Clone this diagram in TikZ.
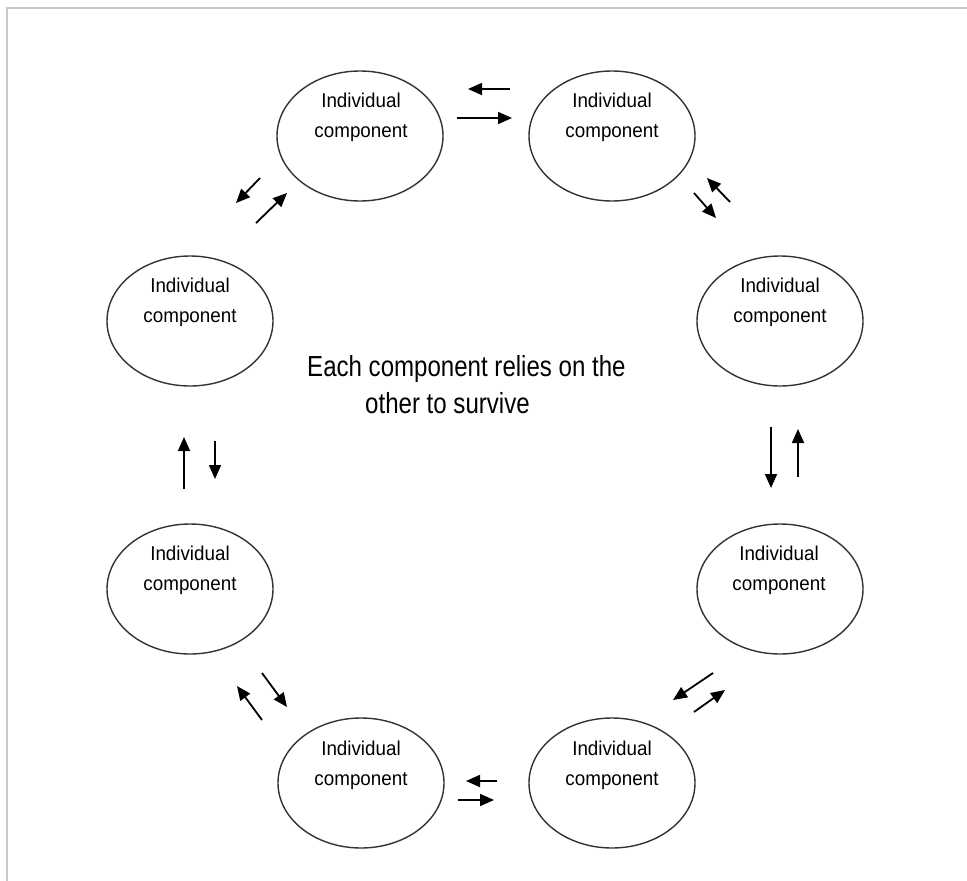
\documentclass[tikz,border=0pt]{standalone}
\usepackage{fontspec}
\setmainfont{Liberation Sans}
\newfontfamily\nodefont[FakeStretch=0.94]{Liberation Sans}
\newfontfamily\centerfont[FakeStretch=0.83]{Liberation Sans}
\usetikzlibrary{arrows.meta,shapes.geometric}
\begin{document}
\begin{tikzpicture}[x=1pt,y=-1pt,
  comp/.style={draw=black!80,line width=1.4pt,ellipse,minimum width=166pt,minimum height=130pt,inner sep=0pt},
  lbl/.style={font=\nodefont\fontsize{20}{30}\selectfont,align=center,inner sep=0pt,anchor=center},
  ctext/.style={font=\centerfont\fontsize{29}{36}\selectfont,inner sep=0pt,anchor=base west},
  flow/.style={line width=1.8pt,-{Triangle[length=14pt,width=12pt]}},
  frame/.style={line width=2.5pt,black!22}
  ]
\useasboundingbox (0,0) rectangle (967,881);
\fill[white] (0,0) rectangle (967,881);
\draw[frame] (7,881) -- (7,8) -- (967,8);

% ellipses
\node[comp] (c1) at (360,136) {};
\node[comp] (c2) at (612,136) {};
\node[comp] (c3) at (780,321) {};
\node[comp] (c4) at (780,589) {};
\node[comp] (c5) at (612,783) {};
\node[comp] (c6) at (361,783) {};
\node[comp] (c7) at (190,589) {};
\node[comp] (c8) at (190,321) {};

% labels
\node[lbl] (t1) at (361,117) {Individual\\component};
\node[lbl] (t2) at (612,117) {Individual\\component};
\node[lbl] (t3) at (780,302) {Individual\\component};
\node[lbl] (t4) at (779,570) {Individual\\component};
\node[lbl] (t5) at (612,765) {Individual\\component};
\node[lbl] (t6) at (361,765) {Individual\\component};
\node[lbl] (t7) at (190,570) {Individual\\component};
\node[lbl] (t8) at (190,302) {Individual\\component};

\node[ctext] (m1) at (307,376) {Each component relies on the};
\node[ctext] (m2) at (365,413) {other to survive};

% arrow end points
\coordinate (a1s) at (510,89);  \coordinate (a1e) at (468,89);
\coordinate (a2s) at (457,118); \coordinate (a2e) at (512,118);
\coordinate (b1s) at (260,178); \coordinate (b1e) at (236,203);
\coordinate (b2s) at (256,223); \coordinate (b2e) at (287,193);
\coordinate (d1s) at (730,202); \coordinate (d1e) at (707,178);
\coordinate (d2s) at (694,193); \coordinate (d2e) at (716,218);
\coordinate (e1s) at (184,489); \coordinate (e1e) at (184,437);
\coordinate (e2s) at (215,441); \coordinate (e2e) at (215,479);
\coordinate (f1s) at (771,427); \coordinate (f1e) at (771,488);
\coordinate (f2s) at (798,477); \coordinate (f2e) at (798,429);
\coordinate (g1s) at (713,673); \coordinate (g1e) at (673,700);
\coordinate (g2s) at (694,712); \coordinate (g2e) at (725,690);
\coordinate (h1s) at (262,673); \coordinate (h1e) at (287,707);
\coordinate (h2s) at (262,720); \coordinate (h2e) at (237,686);
\coordinate (k1s) at (497,781); \coordinate (k1e) at (466,781);
\coordinate (k2s) at (458,800); \coordinate (k2e) at (494,800);

\foreach \p in {a1,a2,b1,b2,d1,d2,e1,e2,f1,f2,g1,g2,h1,h2,k1,k2}
  \draw[flow] (\p s) -- (\p e);
\end{tikzpicture}
\end{document}
